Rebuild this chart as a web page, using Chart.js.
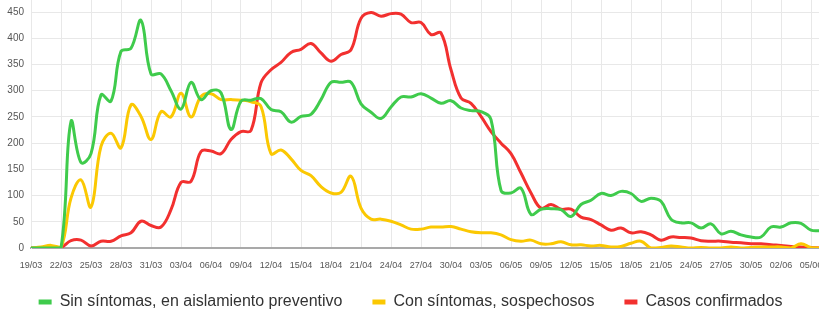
<!DOCTYPE html>
<html><head><meta charset="utf-8">
<script src="https://cdn.jsdelivr.net/npm/chart.js@4/dist/chart.umd.min.js"></script>
<style>
html,body{margin:0;padding:0;background:#fff;overflow:hidden}
#wrap{width:819px;height:313px;overflow:hidden;position:relative;background:#fff}
#c{position:absolute;left:0;top:0}
</style></head><body>
<div id="wrap"><canvas id="c" width="821" height="320"></canvas></div>
<script>
const labels = ["19/03","20/03","21/03","22/03","23/03","24/03","25/03","26/03","27/03","28/03","29/03","30/03","31/03",
"01/04","02/04","03/04","04/04","05/04","06/04","07/04","08/04","09/04","10/04","11/04","12/04","13/04","14/04","15/04","16/04","17/04","18/04","19/04","20/04","21/04","22/04","23/04","24/04","25/04","26/04","27/04","28/04","29/04","30/04",
"01/05","02/05","03/05","04/05","05/05","06/05","07/05","08/05","09/05","10/05","11/05","12/05","13/05","14/05","15/05","16/05","17/05","18/05","19/05","20/05","21/05","22/05","23/05","24/05","25/05","26/05","27/05","28/05","29/05","30/05","31/05",
"01/06","02/06","03/06","04/06","05/06","06/06"];

const sinSintomas = [0,0,0,0,241,163,180,292,280,375,381,434,332,332,300,265,316,283,300,296,226,280,282,285,264,260,240,251,255,283,316,316,316,275,259,247,269,288,288,294,286,276,281,267,262,260,245,110,105,114,64,74,75,73,60,83,91,104,100,108,104,89,95,89,55,48,48,38,46,27,32,25,21,21,40,40,48,47,34,33];

const conSintomas = [0,2,5,1,95,130,78,194,219,191,273,251,207,260,250,295,250,289,294,283,283,282,279,270,180,187,170,148,138,117,105,106,137,76,55,55,51,44,36,36,40,40,41,36,31,29,29,25,16,13,15,8,8,12,6,6,4,5,2,3,9,13,0,1,4,2,0,1,0,0,2,0,1,2,2,2,0,8,1,0];

const confirmados = [0,0,0,1,14,15,4,13,13,23,29,51,43,40,73,125,127,184,185,180,207,222,224,315,340,354,373,379,390,372,356,369,378,438,449,442,447,446,430,430,407,410,340,286,276,251,222,200,180,143,105,76,83,74,74,59,54,44,34,38,29,31,25,15,21,20,19,14,13,13,11,10,8,8,6,5,3,2,1,0];

const seriesNames = ["Sin síntomas, en aislamiento preventivo","Con síntomas, sospechosos","Casos confirmados"];
const seriesColors = ["#3fcb4c","#fbc802","#f2302f"];
const yTickValues = [0,50,100,150,200,250,300,350,400,450];

const xFont = {family:"'Liberation Sans',Arial,sans-serif", size:9};
const yFont = {family:"'Liberation Sans',Arial,sans-serif", size:10};
const mk = (i, data) => ({label: seriesNames[i], data, borderColor: seriesColors[i], backgroundColor: seriesColors[i],
  borderWidth: 3, pointRadius: 0, pointHoverRadius: 0, tension: 0.4, fill: false});

const labelRoom = {
  id: 'labelRoom',
  afterLayout(chart) { const x = chart.scales.x; x.bottom += 14; }
};

new Chart(document.getElementById('c'), {
  type: 'line',
  data: { labels, datasets: [mk(0, sinSintomas), mk(1, conSintomas), mk(2, confirmados)] },
  plugins: [labelRoom],
  options: {
    responsive: false, animation: false,
    layout: { padding: {left:0, right:0, top:0, bottom:0} },
    plugins: {
      tooltip: {enabled:false},
      legend: {
        position: 'bottom',
        labels: {
          boxWidth: 13, boxHeight: 5, padding: 30, color: '#333',
          font: {family:"'Liberation Sans',Arial,sans-serif", size:16},
          generateLabels: (chart) => Chart.defaults.plugins.legend.labels.generateLabels(chart).map(l => Object.assign(l, {lineWidth:0, strokeStyle:'rgba(0,0,0,0)'}))
        }
      }
    },
    scales: {
      x: {
        grid: { color: '#e8e8e8', drawTicks: false },
        border: { color: '#a9a9a9', width: 2 },
        afterFit: s => { s.height = 16; s.paddingLeft = 0; s.paddingRight = 0; },
        ticks: {
          autoSkip: false, maxRotation: 0, minRotation: 0, padding: 12, color: '#555', font: xFont,
          callback: (v, i) => (i % 3 === 0 ? labels[i] : null)
        }
      },
      y: {
        min: 0, max: 473,
        grid: { color: '#e8e8e8', drawTicks: false },
        border: { color: '#e8e8e8' },
        afterFit: s => { s.width = 31; s.paddingTop = 0; s.paddingBottom = 0; },
        afterBuildTicks: s => { s.ticks = yTickValues.map(v => ({value: v})).concat([{value: 473}]); },
        ticks: {
          padding: 7, color: '#555', font: yFont,
          callback: v => (yTickValues.includes(v) ? String(v) : null)
        }
      }
    }
  }
});
</script>
</body></html>
